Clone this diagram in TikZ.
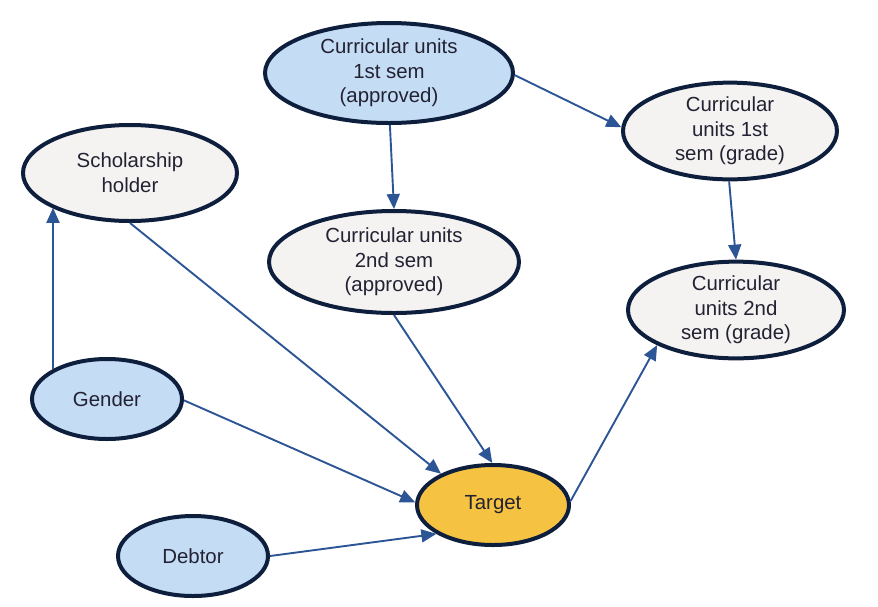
\documentclass[tikz,border=0pt]{standalone}
\usepackage{fontspec}
\setmainfont{Liberation Sans}
\usetikzlibrary{arrows.meta,shapes.geometric}
\definecolor{navy}{HTML}{0E1F3D}
\definecolor{edgeblue}{HTML}{2C5596}
\definecolor{lblue}{HTML}{C5DCF5}
\definecolor{lgrey}{HTML}{F4F3F1}
\definecolor{gold}{HTML}{F5C242}
\definecolor{txt}{HTML}{222233}
\tikzset{
  var/.style={ellipse, draw=navy, line width=4pt, inner sep=0pt, align=center,
    text=txt, font=\fontsize{20.4}{24.7}\selectfont},
  bluev/.style={var, fill=lblue},
  greyv/.style={var, fill=lgrey},
  goldv/.style={var, fill=gold},
  arr/.style={draw=edgeblue, line width=1.9pt, -{Triangle[length=15pt,width=13pt]}, fill=edgeblue}
}
\begin{document}
\begin{tikzpicture}[x=1pt,y=1pt]
\useasboundingbox (0,0) rectangle (878,-606);
\node[bluev, minimum width=248pt, minimum height=100pt] (c1a) at (389,-73) {Curricular units\\1st sem\\(approved)};
\node[greyv, minimum width=214pt, minimum height=94pt] (c1g) at (730,-131) {Curricular\\units 1st\\sem (grade)};
\node[greyv, minimum width=214pt, minimum height=96pt] (sch) at (130,-173) {Scholarship\\holder};
\node[greyv, minimum width=250pt, minimum height=102pt] (c2a) at (394,-262) {Curricular units\\2nd sem\\(approved)};
\node[greyv, minimum width=216pt, minimum height=92pt] (c2g) at (736,-310) {Curricular\\units 2nd\\sem (grade)};
\node[bluev, minimum width=150pt, minimum height=80pt] (gen) at (107,-399) {Gender};
\node[goldv, minimum width=152pt, minimum height=80pt] (tgt) at (493,-505) {Target};
\node[bluev, minimum width=150pt, minimum height=80pt] (deb) at (193,-556) {Debtor};

\draw[arr] (c1a.271) -- (c2a.90);
\draw[arr] (c1a.359) -- (c1g.178.4);
\draw[arr] (c1g.269) -- (c2g.90);
\draw[arr] (sch.270) -- (tgt.149.8);
\draw[arr] (c2a.270) -- (tgt.91);
\draw[arr] (gen.359) -- (tgt.178.5);
\draw[arr] (deb.0) -- (tgt.207.8);
\draw[arr] (gen.151) -- (gen.151 |- sch.204.7);
\draw[arr] (tgt.3) -- (c2g.204.7);
\end{tikzpicture}
\end{document}
